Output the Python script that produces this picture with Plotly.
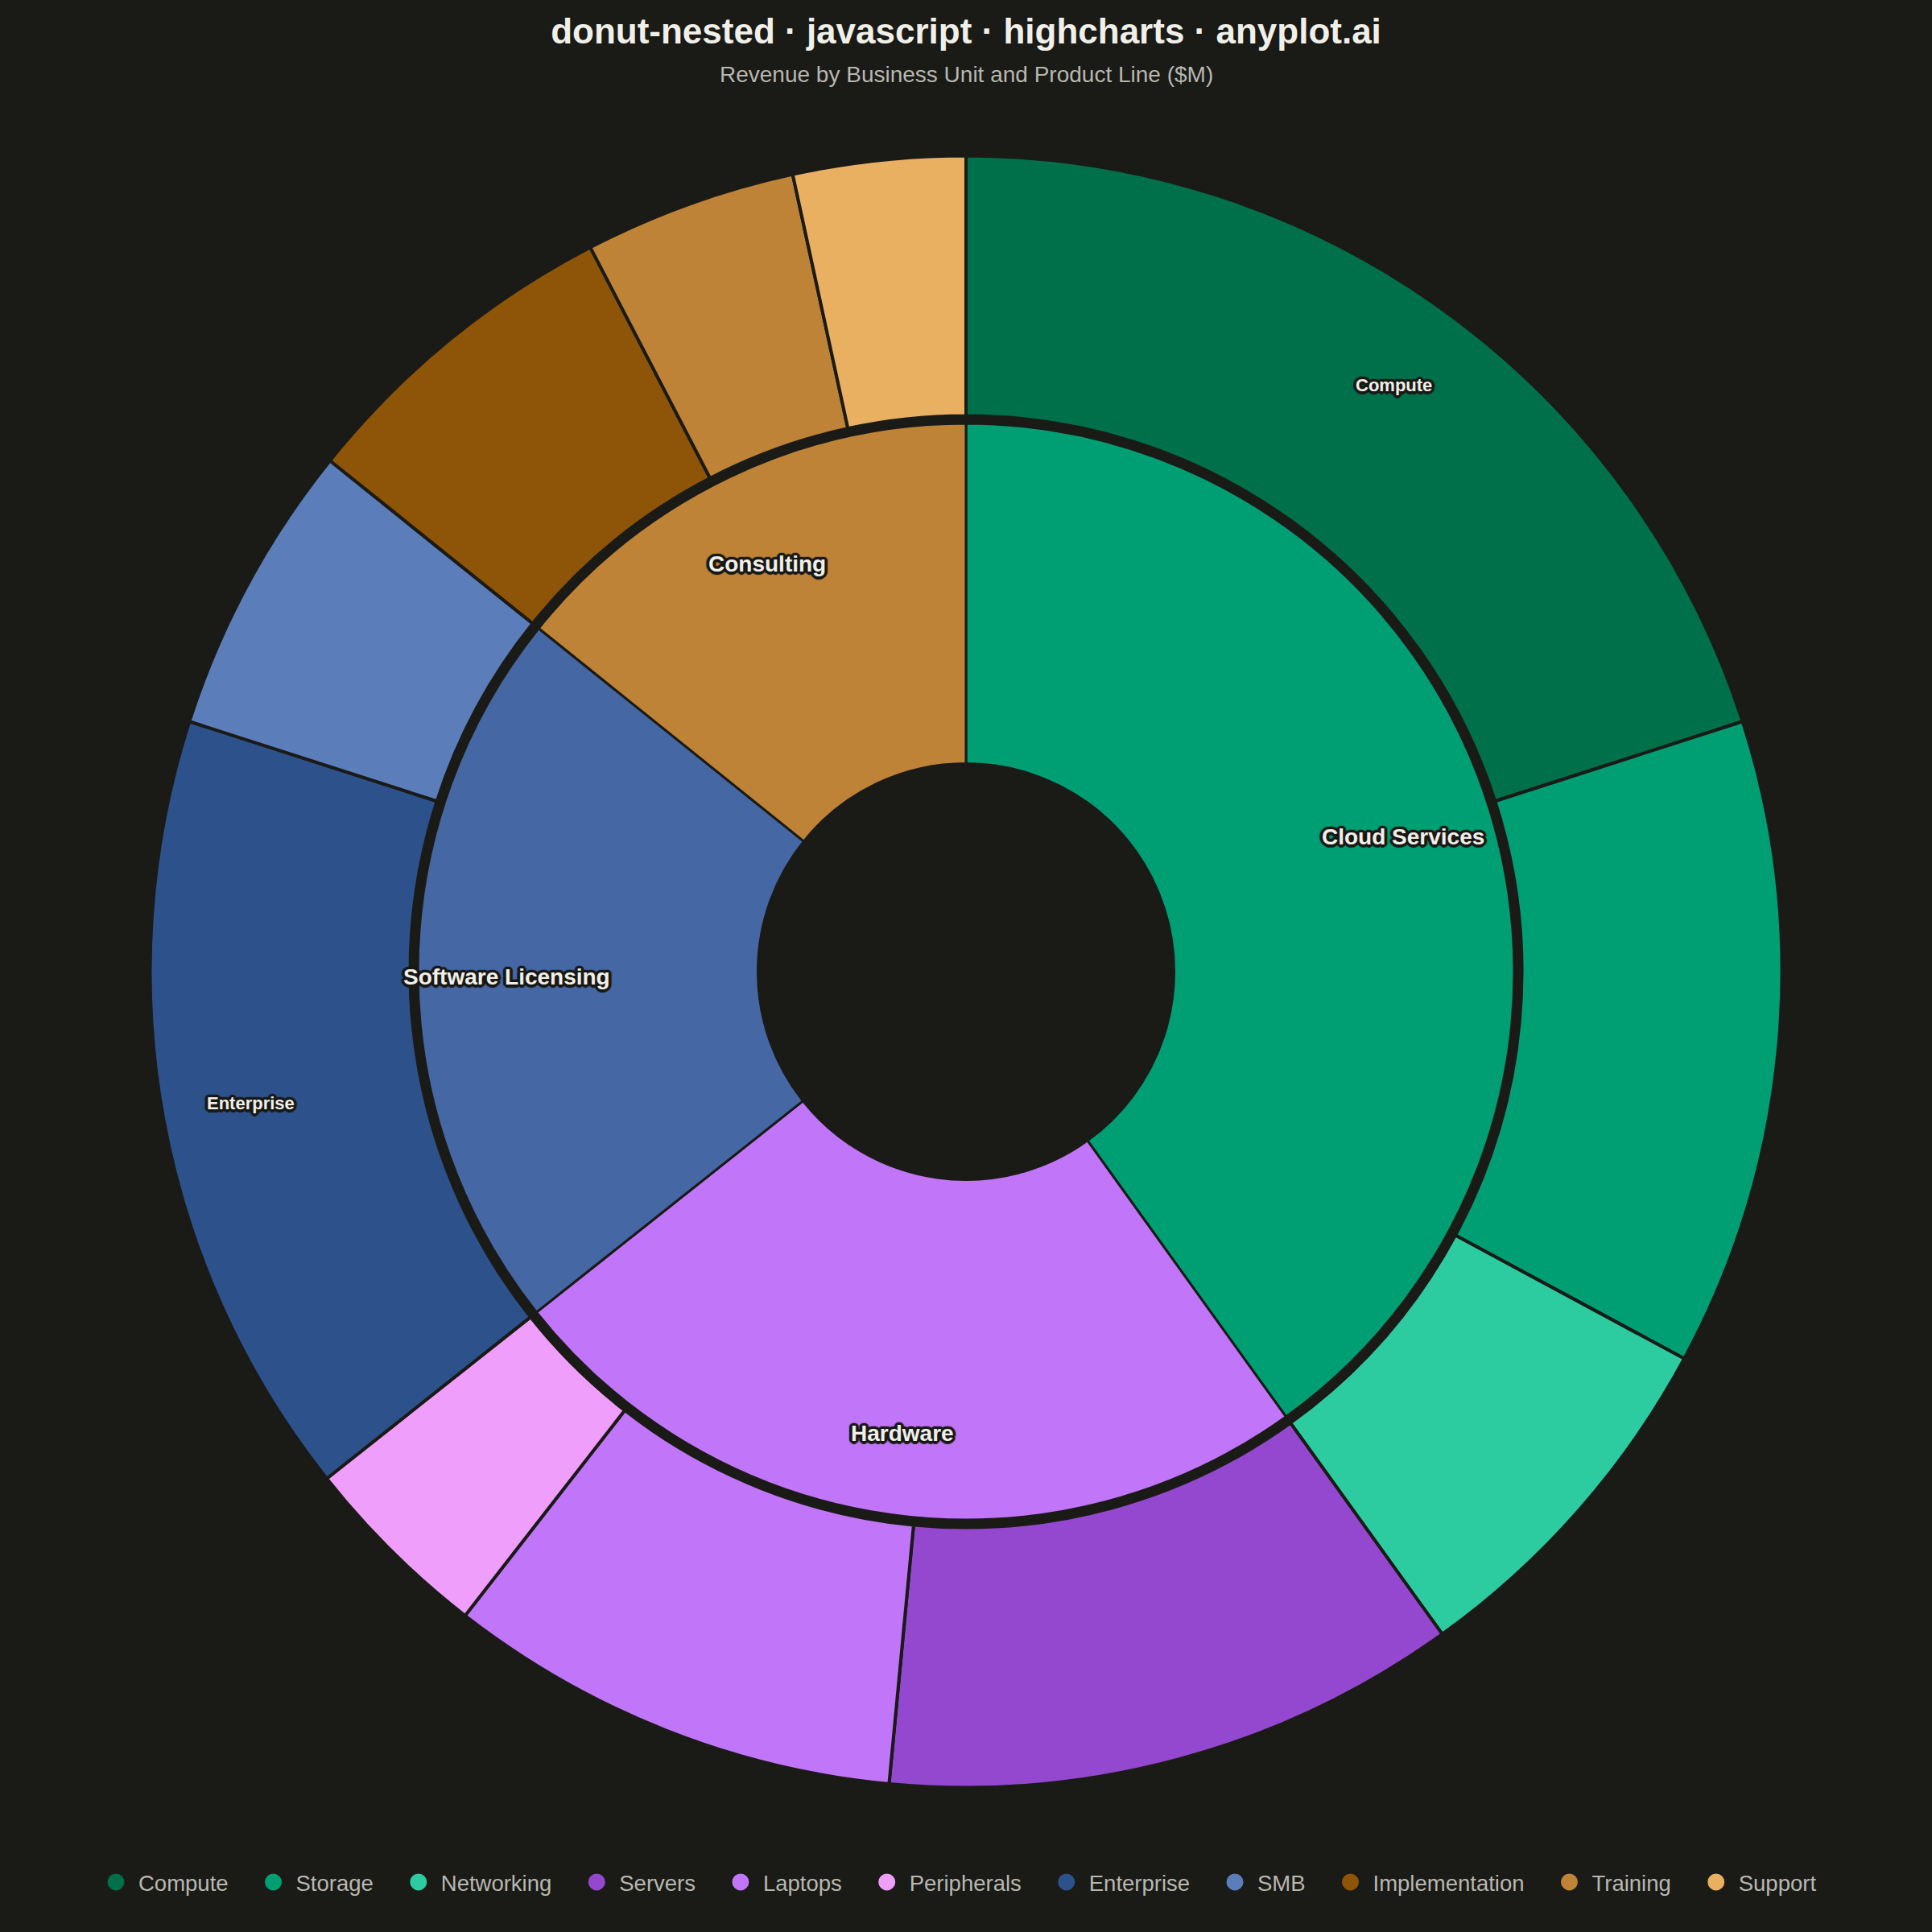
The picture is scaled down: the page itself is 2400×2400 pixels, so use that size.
import math
import plotly.graph_objects as go

# ---- data ($M) ----
units = ["Cloud Services", "Hardware", "Software Licensing", "Consulting"]
unit_colors = ["#009E73", "#C175F9", "#4567A4", "#BE8336"]

products = ["Compute", "Storage", "Networking", "Servers", "Laptops", "Peripherals",
            "Enterprise", "SMB", "Implementation", "Training", "Support"]
product_unit = ["Cloud Services"] * 3 + ["Hardware"] * 3 + ["Software Licensing"] * 2 + ["Consulting"] * 3
product_revenue = [50, 32, 18, 28.5, 22.5, 9.5, 39, 14.5, 16.5, 10.5, 8.5]
product_colors = ["#00704A", "#009E73", "#2DCCA0", "#9447CF", "#C175F9", "#F09EFB",
                  "#2D528B", "#5B7DBA", "#8E5407", "#BE8336", "#EAB062"]

unit_revenue = [sum(v for v, u in zip(product_revenue, product_unit) if u == name) for name in units]

# ---- look ----
BG = "#1A1A17"
INK = "#F0EFE8"
MUTED = "#B8B7AF"
FONT = "Liberation Sans, Arial, sans-serif"
W = H = 2400
CX, CY = 1200, 1207          # donut centre (px)
R_OUT, R_GAP, R_IN, R_HOLE = 1013.5, 690.5, 681, 258.5
LABEL_INSET = 110            # labels sit this far inside each ring's outer edge
# text outline like highcharts' textOutline: ring of hard shadows around the glyphs
OUTLINE = ", ".join(f"{3.5 * math.cos(a):.2f}px {3.5 * math.sin(a):.2f}px 1px {BG}"
                    for a in [k * math.pi / 8 for k in range(16)])


def domain(r):
    return dict(x=[(CX - r) / W, (CX + r) / W], y=[1 - (CY + r) / H, 1 - (CY - r) / H])


def ring_labels(names, values, radius, size, keep, drop=0):
    total = sum(values)
    acc, out = 0.0, []
    for n, v in zip(names, values):
        mid = (acc + v / 2) / total * 2 * math.pi
        acc += v
        if not keep(v / total):
            continue
        px, py = CX + radius * math.sin(mid), CY - radius * math.cos(mid)
        out.append(dict(x=px / W, y=1 - py / H, xref="paper", yref="paper", text=n,
                        showarrow=False, xanchor="center", yanchor="middle", yshift=-drop,
                        font=dict(family=FONT, size=size, color=INK, weight=700, shadow=OUTLINE)))
    return out


fig = go.Figure()
fig.add_trace(go.Pie(labels=products, values=product_revenue, sort=False, direction="clockwise",
                     rotation=0, hole=R_GAP / R_OUT, domain=domain(R_OUT), textinfo="none",
                     marker=dict(colors=product_colors, line=dict(color=BG, width=4)),
                     showlegend=False, name="Product Line"))
fig.add_trace(go.Pie(labels=units, values=unit_revenue, sort=False, direction="clockwise",
                     rotation=0, hole=R_HOLE / R_IN, domain=domain(R_IN), textinfo="none",
                     marker=dict(colors=unit_colors, line=dict(color=BG, width=3)),
                     showlegend=False, name="Business Unit"))

# legend with round markers (one dummy trace per product line)
for p, c in zip(products, product_colors):
    fig.add_trace(go.Scatter(x=[None], y=[None], mode="markers", name=p + "\u00a0\u00a0\u00a0",
                             marker=dict(color=c, size=16, symbol="circle", line=dict(color=c, width=5))))

annotations = ring_labels(units, unit_revenue, R_IN - LABEL_INSET, 28, lambda s: True, drop=8)
annotations += ring_labels(products, product_revenue, R_OUT - LABEL_INSET, 22,
                           lambda s: s >= 0.15, drop=2)
annotations.append(dict(x=0.5, y=1 - 92 / H, xref="paper", yref="paper", showarrow=False,
                        text="Revenue by Business Unit and Product Line ($M)",
                        xanchor="center", yanchor="middle",
                        font=dict(family=FONT, size=28, color=MUTED)))

fig.update_layout(
    width=W, height=H,
    paper_bgcolor=BG, plot_bgcolor=BG,
    margin=dict(l=0, r=0, t=0, b=0),
    title=dict(text="donut-nested · javascript · highcharts · anyplot.ai",
               x=0.5, xanchor="center", y=1 - 39 / H, yanchor="middle", yref="paper",
               font=dict(family=FONT, size=44, color=INK, weight=700)),
    xaxis=dict(visible=False), yaxis=dict(visible=False),
    legend=dict(orientation="h", x=0.5, xanchor="center", y=1 - 2338 / H, yanchor="middle",
                font=dict(family=FONT, size=27.5, color=MUTED), itemwidth=46,
                bgcolor="rgba(0,0,0,0)"),
    annotations=annotations,
)
# drop the browser's default 8px body margin so the figure fills the window exactly
fig.write_html("out.html", config={"displayModeBar": False},
               post_script="document.body.style.margin='0';")
